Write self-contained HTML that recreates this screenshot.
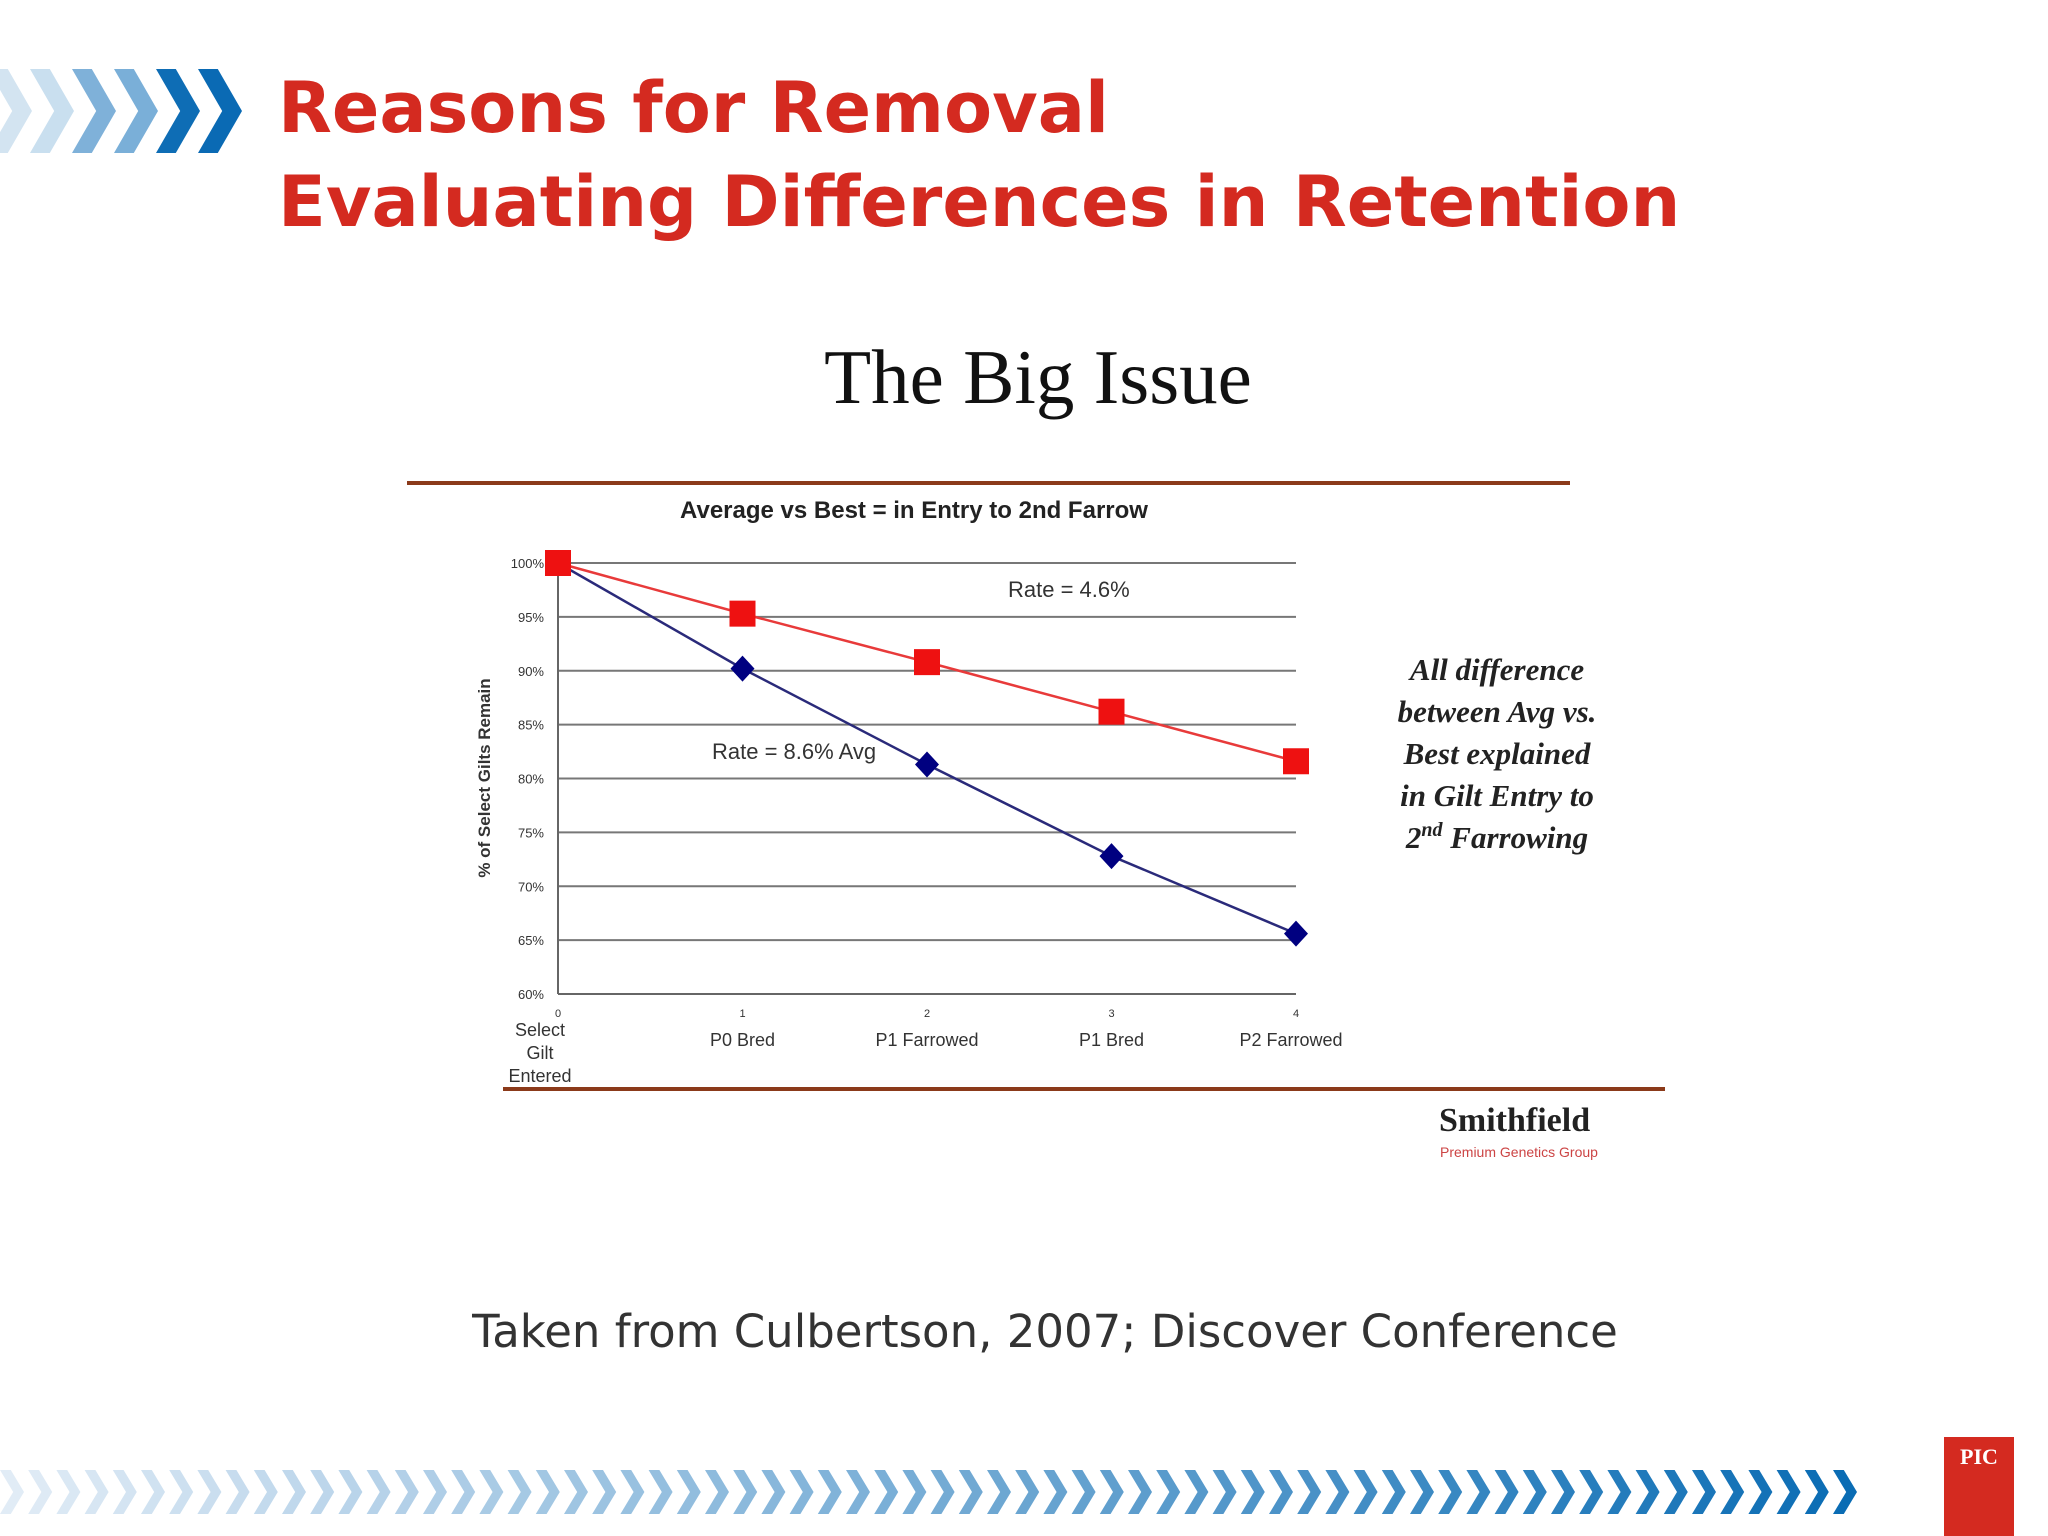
<!DOCTYPE html>
<html><head><meta charset="utf-8"><style>
html,body{margin:0;padding:0;background:#fff;}
svg{display:block}
</style></head><body>
<svg id="s" width="2048" height="1536" viewBox="0 0 2048 1536" xmlns="http://www.w3.org/2000/svg">
<g id="topChev"></g>
<text x="278" y="132" font-family="DejaVu Sans, sans-serif" font-weight="bold" font-size="70" fill="#d42a20">Reasons for Removal</text>
<text x="278" y="226" font-family="DejaVu Sans, sans-serif" font-weight="bold" font-size="70" fill="#d42a20">Evaluating Differences in Retention</text>
<text x="1038" y="403" text-anchor="middle" font-family="Liberation Serif, serif" font-size="77" fill="#111">The Big Issue</text>
<rect x="407" y="481" width="1163" height="4" fill="#8b3a1a"/>
<rect x="503" y="1087" width="1162" height="4" fill="#8b3a1a"/>
<text x="914" y="518" text-anchor="middle" font-family="Liberation Sans, sans-serif" font-weight="bold" font-size="24" fill="#222">Average vs  Best =  in Entry to 2nd Farrow</text>
<text transform="translate(490,778) rotate(-90)" text-anchor="middle" font-family="Liberation Sans, sans-serif" font-weight="bold" font-size="17" fill="#333">% of Select Gilts Remain</text>
<g id="chart"></g>
<text x="1008" y="597" font-family="Liberation Sans, sans-serif" font-size="22" fill="#333">Rate = 4.6%</text>
<text x="712" y="759" font-family="Liberation Sans, sans-serif" font-size="22" fill="#333">Rate = 8.6% Avg</text>
<g font-family="Liberation Serif, serif" font-style="italic" font-weight="bold" font-size="31" fill="#222" text-anchor="middle">
<text x="1497" y="680">All difference</text>
<text x="1497" y="722">between Avg vs.</text>
<text x="1497" y="764">Best explained</text>
<text x="1497" y="806">in Gilt Entry to</text>
<text x="1497" y="848">2<tspan font-size="20" dy="-12">nd</tspan><tspan dy="12"> Farrowing</tspan></text>
</g>
<text x="1439" y="1131" font-family="Liberation Serif, serif" font-weight="bold" font-size="34" fill="#222">Smithfield</text>
<text x="1440" y="1157" font-family="Liberation Sans, sans-serif" font-size="14" fill="#c44">Premium Genetics Group</text>
<text x="1045" y="1347" text-anchor="middle" font-family="DejaVu Sans, sans-serif" font-size="45" fill="#333">Taken from Culbertson, 2007; Discover Conference</text>
<g id="botChev"></g>
<rect x="1944" y="1437" width="70" height="99" fill="#d42a20"/>
<text x="1979" y="1464" text-anchor="middle" font-family="Liberation Serif, serif" font-weight="bold" font-size="22" fill="#fff">PIC</text>
</svg>
<script>
const categories = ["Select Gilt Entered","P0 Bred","P1 Farrowed","P1 Bred","P2 Farrowed"];
const bestValues = [100, 95.3, 90.8, 86.2, 81.6];
const avgValues = [100, 90.2, 81.3, 72.8, 65.6];
const yTicks = [60,65,70,75,80,85,90,95,100];
const NS="http://www.w3.org/2000/svg";
const X0=558,X1=1296,Y0=994,Y1=563;
const xs=i=>X0+(X1-X0)*i/(categories.length-1);
const ys=v=>Y0-(v-60)/40*(Y0-Y1);
const chart=document.getElementById('chart');
function mk(tag,attrs,parent){const e=document.createElementNS(NS,tag);for(const k in attrs)e.setAttribute(k,attrs[k]);(parent||chart).appendChild(e);return e;}
yTicks.forEach(t=>{
  if(t>60){const l=mk('line',{x1:X0,x2:X1,y1:ys(t),y2:ys(t),stroke:'#777','stroke-width':2});
  
  }
  const tx=mk('text',{x:X0-14,y:ys(t)+5,'text-anchor':'end','font-family':'Liberation Sans, sans-serif','font-size':13,fill:'#333'});
  tx.textContent=t+'%';
  
  
});
const ax=mk('line',{x1:X0,x2:X0,y1:Y1,y2:Y0,stroke:'#666','stroke-width':2});


const bx=mk('line',{x1:X0,x2:X1,y1:Y0,y2:Y0,stroke:'#666','stroke-width':2});


categories.forEach((c,i)=>{
  const n=mk('text',{x:xs(i),y:1017,'text-anchor':'middle','font-family':'Liberation Sans, sans-serif','font-size':11,fill:'#333'});
  n.textContent=i;
  
  
  if(i===0){
    ['Select','Gilt','Entered'].forEach((w,j)=>{
      const t=mk('text',{x:xs(i)-18,y:1036+j*23,'text-anchor':'middle','font-family':'Liberation Sans, sans-serif','font-size':18,fill:'#333'});
      t.textContent=w;
      
      
    });
  } else {
    const t=mk('text',{x:xs(i)+(i===4?-5:0),y:1046,'text-anchor':'middle','font-family':'Liberation Sans, sans-serif','font-size':18,fill:'#333'});
    t.textContent=c;
    
    
  }
});
function series(vals,color,name){
  const p=mk('polyline',{points:vals.map((v,i)=>xs(i)+','+ys(v)).join(' '),fill:'none',stroke:color,'stroke-width':2.5});
  
  
}
series(avgValues,'#2a2a7a','avg');
series(bestValues,'#e83a3a','best');
avgValues.forEach((v,i)=>{
  const x=xs(i),y=ys(v);
  const d=mk('polygon',{points:`${x},${y-13} ${x+12},${y} ${x},${y+13} ${x-12},${y}`,fill:'#000080'});
  
  
});
bestValues.forEach((v,i)=>{
  const x=xs(i),y=ys(v);
  const r=mk('rect',{x:x-13,y:y-13,width:26,height:26,fill:'#ee1111'});
  
  
});
function chev(g,x,y,w,h,col){
  const t=w*0.45;
  const p=mk('polygon',{points:`${x},${y} ${x+t},${y} ${x+w},${y+h/2} ${x+t},${y+h} ${x},${y+h} ${x+w-t},${y+h/2}`,fill:col},g);
  
  
}
const tc=document.getElementById('topChev');
const tcols=['#d3e4f1','#c9dfef','#7fb1d9','#7aafd8','#0e6db5','#0a6ab4'];
tcols.forEach((c,i)=>chev(tc,-12+i*42,69,44,84,c));
const bc=document.getElementById('botChev');
for(let i=0;i<66;i++){
  const f=i/65;
  const r=Math.round(225-f*215),g=Math.round(236-f*128),b=Math.round(246-f*66);
  chev(bc,i*28.2,1470,24,44,`rgb(${r},${g},${b})`);
}
</script>
</body></html>
